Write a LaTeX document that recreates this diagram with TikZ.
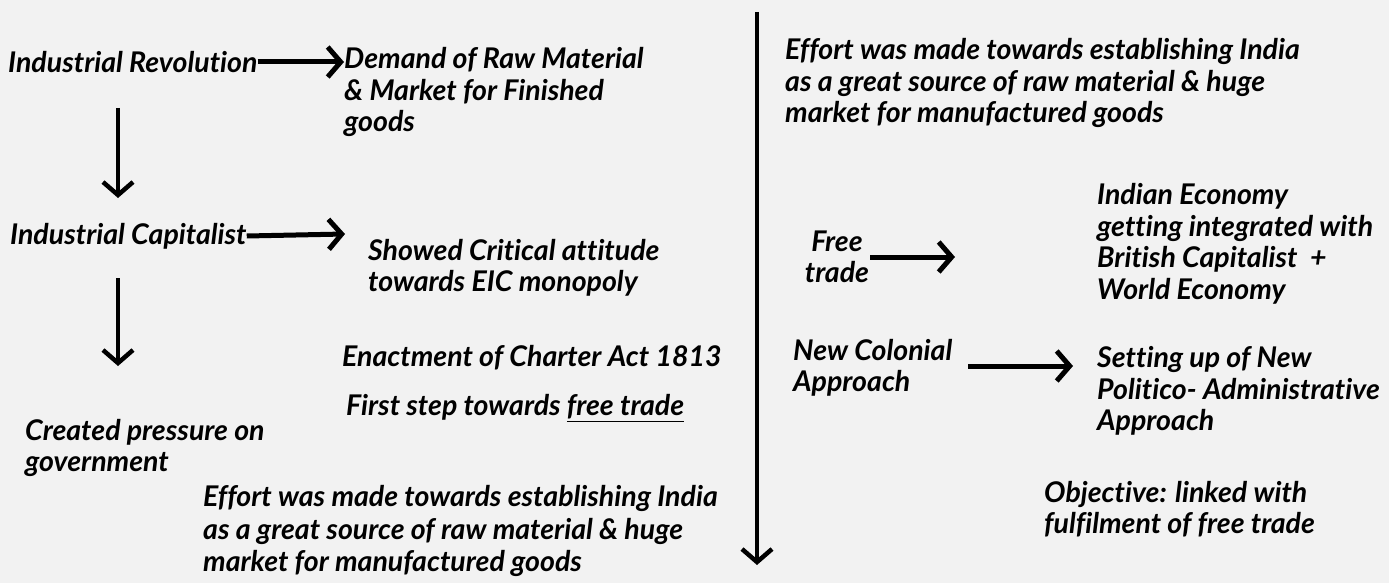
\documentclass[tikz,border=0pt]{standalone}
\usepackage{fontspec}
\setmainfont[Ligatures={NoCommon}]{Lato}
\usetikzlibrary{arrows.meta}
\definecolor{bgc}{HTML}{F2F2F2}
\tikzset{
  txt/.style={anchor=west, inner sep=0pt, align=left, font=\fontsize{28.5}{31.5}\selectfont\bfseries\itshape},
  harr/.style={line width=5pt, -{Straight Barb[length=13pt,width=30pt,line width=5pt]}},
  varr/.style={line width=4pt, -{Straight Barb[length=13pt,width=30pt,line width=4.5pt]}},
}
\begin{document}
\begin{tikzpicture}[x=1pt,y=-1pt]
\fill[bgc] (0,0) rectangle (1389,583);
\useasboundingbox (0,0) rectangle (1389,583);
% left column
\node[txt] (ir) at (8,62) {Industrial Revolution};
\node[txt] (dem) at (344,92) {Demand of Raw Material\\\& Market for Finished\\goods};
\draw[harr] (ir.east) -- (ir.east -| dem.west);
\coordinate (a1s) at (118,108);
\coordinate (a1e) at (118,198);
\draw[varr] (a1s) -- (a1e);
\node[txt] (ic) at (10,236) {Industrial Capitalist};
\coordinate (icend) at (345,234);
\draw[harr] (ic.east) -- (icend);
\node[txt] (sc) at (368,268) {Showed Critical attitude\\towards EIC monopoly};
\coordinate (a2s) at (118,278);
\coordinate (a2e) at (118,366);
\draw[varr] (a2s) -- (a2e);
\node[txt] (ec) at (342,358) {Enactment of Charter Act 1813};
\node[txt] (fs) at (346,408) {First step towards \underline{free trade}};
\node[txt] (cp) at (25,448) {Created pressure on\\government};
\node[txt, font=\fontsize{28.5}{32.5}\selectfont\bfseries\itshape] (ef1) at (203,531) {Effort was made towards establishing India\\as a great source of raw material \& huge\\market for manufactured goods};
% divider
\coordinate (dtop) at (757,12);
\coordinate (dbot) at (757,565);
\draw[varr, line width=4.5pt] (dtop) -- (dbot);
% right column
\node[txt] (ef2) at (785,83) {Effort was made towards establishing India\\as a great source of raw material \& huge\\market for manufactured goods};
\node[txt] (ie) at (1097,244) {Indian Economy\\getting integrated with\\British Capitalist\ \ +\\World Economy};
\node[txt, align=center, anchor=center] (ft) at (837,257) {Free\\trade};
\coordinate (fts) at (870,257);
\draw[harr] (fts) -- (fts -| 955,0);
\node[txt] (nc) at (793,368) {New Colonial\\Approach};
\coordinate (ncs) at (968,366);
\coordinate (nce) at (1073,366);
\draw[harr] (ncs) -- (nce);
\node[txt] (su) at (1097,391) {Setting up of New\\Politico- Administrative\\Approach};
\node[txt] (ob) at (1044,509) {Objective: linked with\\fulfilment of free trade};
\end{tikzpicture}
\end{document}
